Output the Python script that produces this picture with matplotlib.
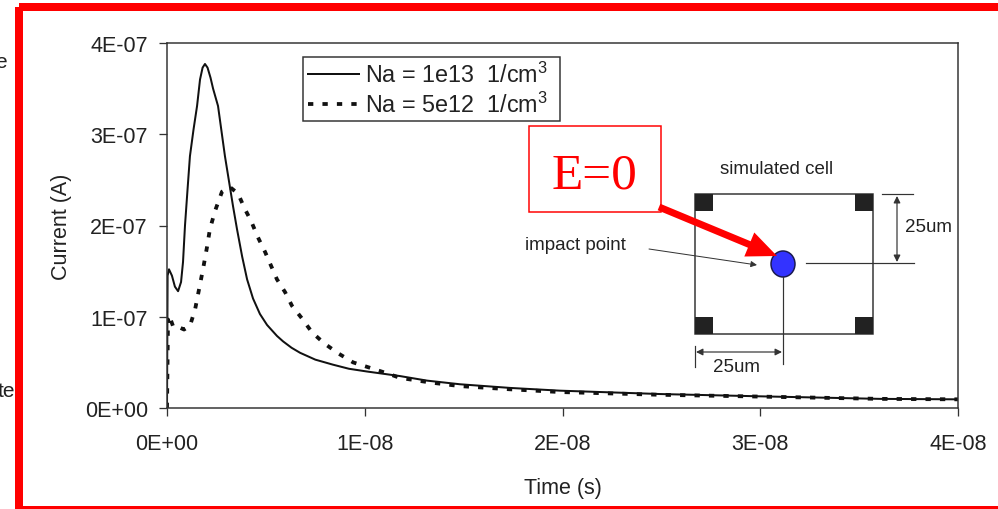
import numpy as np
import matplotlib
matplotlib.use("Agg")
import matplotlib.pyplot as plt
from matplotlib.patches import Rectangle, Ellipse, FancyArrow

# time in ns, current in units of 1e-7 A
t_na13 = [0, 0.03, 0.1, 0.25, 0.4, 0.56, 0.71, 0.81, 0.91, 1.04, 1.16, 1.34,
          1.52, 1.67, 1.8, 1.92, 2.05, 2.2, 2.33, 2.58, 2.93, 3.34, 3.54,
          3.8, 4.05, 4.35, 4.7, 5.06, 5.56, 5.87, 6.3, 6.73, 7.5, 8.39,
          9.2, 10.11, 11.78, 13.15, 14.82, 17.35, 19.87, 24.93, 29.99,
          36.06, 40.0]
i_na13 = [0, 1.45, 1.52, 1.45, 1.33, 1.28, 1.38, 1.6, 2.0, 2.4, 2.76, 3.05,
          3.31, 3.6, 3.73, 3.77, 3.73, 3.62, 3.5, 3.31, 2.76, 2.21, 1.96,
          1.66, 1.41, 1.20, 1.03, 0.91, 0.79, 0.73, 0.66, 0.605, 0.53, 0.475,
          0.43, 0.40, 0.35, 0.30, 0.26, 0.22, 0.19, 0.153, 0.128, 0.10,
          0.095]

t_na5 = [0, 0.03, 0.05, 0.13, 0.2, 0.3, 0.46, 0.66, 0.86, 1.16, 1.42, 1.62,
         1.82, 2.02, 2.17, 2.43, 2.78, 3.19, 3.59, 3.94, 4.25, 4.6, 4.96,
         5.26, 5.56, 5.97, 6.32, 6.83, 7.33, 7.94, 8.65, 9.41, 10.27, 11.13,
         11.78, 13.3, 14.82, 17.35, 19.87, 24.93, 29.99, 36.06, 40.0]
i_na5 = [0, 0.55, 0.97, 0.9, 0.96, 0.9, 0.87, 0.88, 0.86, 0.9, 1.08, 1.3,
         1.52, 1.76, 1.96, 2.16, 2.37, 2.42, 2.35, 2.18, 2.05, 1.87, 1.71,
         1.56, 1.41, 1.27, 1.12, 0.98, 0.83, 0.71, 0.60, 0.50, 0.44, 0.38,
         0.33, 0.28, 0.24, 0.205, 0.175, 0.145, 0.125, 0.10, 0.095]

labels = ["Na = 1e13  1/cm$^{3}$  ", "Na = 5e12  1/cm$^{3}$  "]
xticks = [0, 1e-8, 2e-8, 3e-8, 4e-8]
xticklabels = ["0E+00", "1E-08", "2E-08", "3E-08", "4E-08"]
yticks = [0, 1e-7, 2e-7, 3e-7, 4e-7]
yticklabels = ["0E+00", "1E-07", "2E-07", "3E-07", "4E-07"]

plt.rcParams['font.family'] = ['Liberation Sans', 'DejaVu Sans']
plt.rcParams['mathtext.fontset'] = 'custom'
plt.rcParams['mathtext.rm'] = 'Liberation Sans'
plt.rcParams['mathtext.default'] = 'regular'
txt = '#222222'
px = 0.72  # points per pixel at dpi 100

fig = plt.figure(figsize=(9.98, 5.10), dpi=100)
ax = fig.add_axes([167/998, 1-409/510, (958-167)/998, (409-44)/510])

ax.plot(np.array(t_na13)*1e-9, np.array(i_na13)*1e-7, color='#111111',
        lw=2*px, label=labels[0], solid_joinstyle='round')
ax.plot(np.array(t_na5)*1e-9, np.array(i_na5)*1e-7, color='#111111',
        lw=3.8*px, linestyle=(0, (1.4, 2.4)), dash_capstyle='butt',
        label=labels[1])

ax.set_xlim(0, 4e-8)
ax.set_ylim(0, 4e-7)
ax.set_xticks(xticks)
ax.set_xticklabels(xticklabels)
ax.set_yticks(yticks)
ax.set_yticklabels(yticklabels)
ax.tick_params(direction='out', length=8*px, width=1.3*px, colors='#333333',
               labelcolor=txt, labelsize=15.5)
ax.tick_params(axis='x', pad=12)
ax.tick_params(axis='y', pad=8)
for s in ax.spines.values():
    s.set_color('#333333')
    s.set_linewidth(1.5*px)

ax.set_xlabel('Time (s)', fontsize=15.5, color=txt)
ax.set_ylabel('Current (A)', fontsize=15.5, color=txt)
ax.xaxis.set_label_coords(0.5, (409-478)/365)
ax.yaxis.set_label_coords((72-167)/791, 0.5)

leg = ax.legend(loc='upper left', bbox_to_anchor=((303-167)/791, (409-58)/365),
                borderaxespad=0, fancybox=False, framealpha=1, fontsize=16.8,
                handlelength=2.2, handletextpad=0.25, borderpad=0.2,
                labelspacing=0.2)
leg.get_frame().set_edgecolor('#333333')
leg.get_frame().set_linewidth(1.5*px)
for t in leg.get_texts():
    t.set_color(txt)

# overlay in pixel coordinates for the cell sketch and frame
ov = fig.add_axes([0, 0, 1, 1], zorder=5)
ov.set_xlim(0, 998)
ov.set_ylim(510, 0)
ov.axis('off')
ov.patch.set_alpha(0)

ov.add_patch(Rectangle((19, 8), 1000, 503, fill=False, edgecolor='#ff0000',
                       lw=8*px))
ov.text(7, 62, 'e', ha='right', va='center', fontsize=15, color=txt)
ov.text(15, 392, 'te', ha='right', va='center', fontsize=15, color=txt)

dark = '#333333'
ov.add_patch(Rectangle((695, 195), 178, 140, fill=False, edgecolor=dark,
                       lw=1.5*px))
for cx, cy in [(695, 195), (855, 195), (695, 318), (855, 318)]:
    ov.add_patch(Rectangle((cx, cy), 18, 17, color='#222222', lw=0))
ov.plot([806, 914], [264, 264], color=dark, lw=1.2*px)
ov.plot([783, 783], [278, 365], color=dark, lw=1.2*px)
ov.plot([695, 695], [347, 368], color=dark, lw=1.2*px)
ov.plot([882, 913], [195, 195], color=dark, lw=1.2*px)
ov.annotate('', xy=(782, 353), xytext=(696, 353),
            arrowprops=dict(arrowstyle='<|-|>', color=dark, lw=1.2*px,
                            mutation_scale=10, shrinkA=0, shrinkB=0))
ov.annotate('', xy=(897, 263), xytext=(897, 197),
            arrowprops=dict(arrowstyle='<|-|>', color=dark, lw=1.2*px,
                            mutation_scale=10, shrinkA=0, shrinkB=0))
ov.add_patch(Ellipse((783, 265), 24, 26, facecolor='#3333ff',
                     edgecolor='#1a1a50', lw=1.5*px))
ov.text(737, 368, '25um', ha='center', va='center', fontsize=13.5, color=txt)
ov.text(905, 228, '25um', ha='left', va='center', fontsize=13.5, color=txt)
ov.text(777, 170, 'simulated cell', ha='center', va='center', fontsize=13.5,
        color=txt)
ov.text(525, 246, 'impact point', ha='left', va='center', fontsize=13.5,
        color=txt)
ov.annotate('', xy=(757, 266), xytext=(649, 250),
            arrowprops=dict(arrowstyle='-|>', color=dark, lw=1*px,
                            mutation_scale=9, shrinkA=0, shrinkB=0))

ov.add_patch(Rectangle((529, 127), 132, 86, facecolor='white',
                       edgecolor='#ff0000', lw=1.5*px))
ov.text(595, 189, 'E=0', ha='center', va='baseline', fontsize=37,
        color='#ff0000', family=['Liberation Serif', 'DejaVu Serif'])
ov.add_patch(FancyArrow(659, 208, 777-659, 257-208, width=7, head_width=26,
                        head_length=30, length_includes_head=True,
                        color='#ff0000', lw=0))

fig.savefig('out.png', dpi=100)
